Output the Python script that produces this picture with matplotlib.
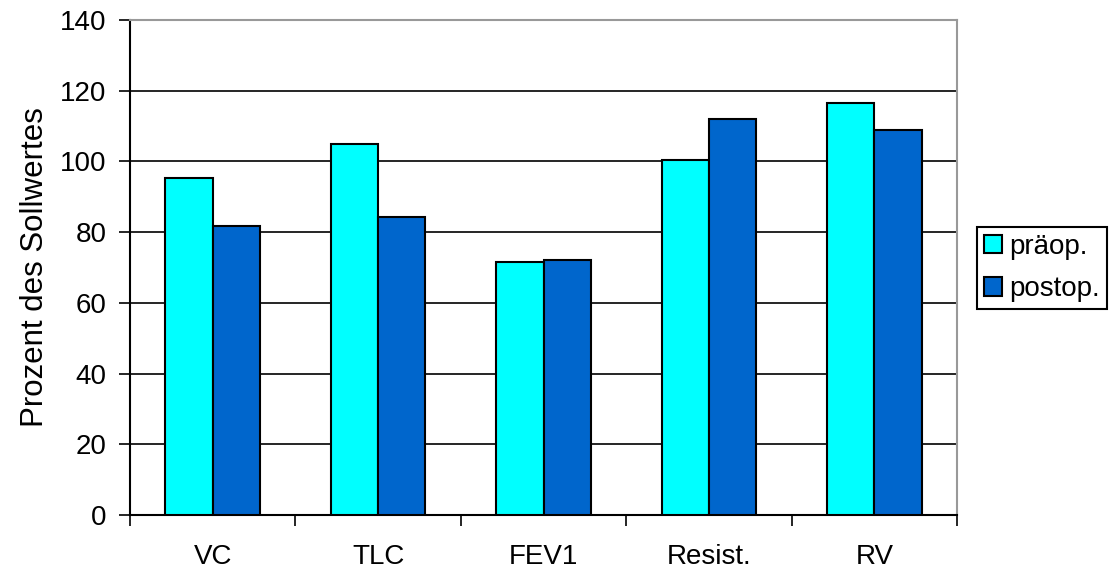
import matplotlib.pyplot as plt
import numpy as np
from matplotlib.patches import Patch

plt.rcParams['font.family'] = ['Liberation Sans', 'DejaVu Sans']

categories = ['VC', 'TLC', 'FEV1', 'Resist.', 'RV']
praeop = [95.2, 104.8, 71.5, 100.5, 116.5]
postop = [81.7, 84.4, 72.0, 112.0, 108.9]

fig = plt.figure(figsize=(11.18, 5.74), dpi=100)
ax = fig.add_axes([130 / 1118, 59 / 574, 827 / 1118, 495 / 574])

x = np.arange(len(categories))
w = 1 / 3.5
ax.bar(x - w / 2, praeop, w, color='#00FFFF', edgecolor='black', linewidth=1.5, zorder=3)
ax.bar(x + w / 2, postop, w, color='#0066CC', edgecolor='black', linewidth=1.5, zorder=3)

ax.set_xlim(-0.5, len(categories) - 0.5)
ax.set_ylim(0, 140)
ax.set_yticks(range(0, 141, 20))
ax.yaxis.grid(True, color='black', linewidth=1.2, zorder=1)
ax.set_axisbelow(True)

# category labels centred, tick marks between categories
ax.set_xticks(np.arange(-0.5, len(categories)), minor=False)
ax.set_xticklabels([])
ax.set_xticks(x, minor=True)
ax.set_xticklabels(categories, minor=True)
ax.tick_params(axis='x', which='major', length=8, width=1.2, direction='out')
ax.tick_params(axis='x', which='minor', length=0, pad=21, labelsize=20)
ax.tick_params(axis='y', length=8, width=1.2, direction='out', labelsize=20, pad=9)

for side in ['left', 'bottom']:
    ax.spines[side].set_color('black')
    ax.spines[side].set_linewidth(1.5)
for side in ['top', 'right']:
    ax.spines[side].set_color('#999999')
    ax.spines[side].set_linewidth(1.5)

ax.set_ylabel('Prozent des Sollwertes', fontsize=22.5, labelpad=7)

handles = [Patch(facecolor='#00FFFF', edgecolor='black', linewidth=1.5),
           Patch(facecolor='#0066CC', edgecolor='black', linewidth=1.5)]
leg = fig.legend(handles, ['präop.', 'postop.'], loc='center left',
                 bbox_to_anchor=(977 / 1118, (574 - 268) / 574), fontsize=20,
                 fancybox=False, framealpha=1, edgecolor='black',
                 handlelength=0.65, handleheight=0.65, handletextpad=0.25,
                 borderpad=0.25, labelspacing=0.6, borderaxespad=0)
leg.get_frame().set_linewidth(1.5)

fig.savefig('out.png', dpi=100)
